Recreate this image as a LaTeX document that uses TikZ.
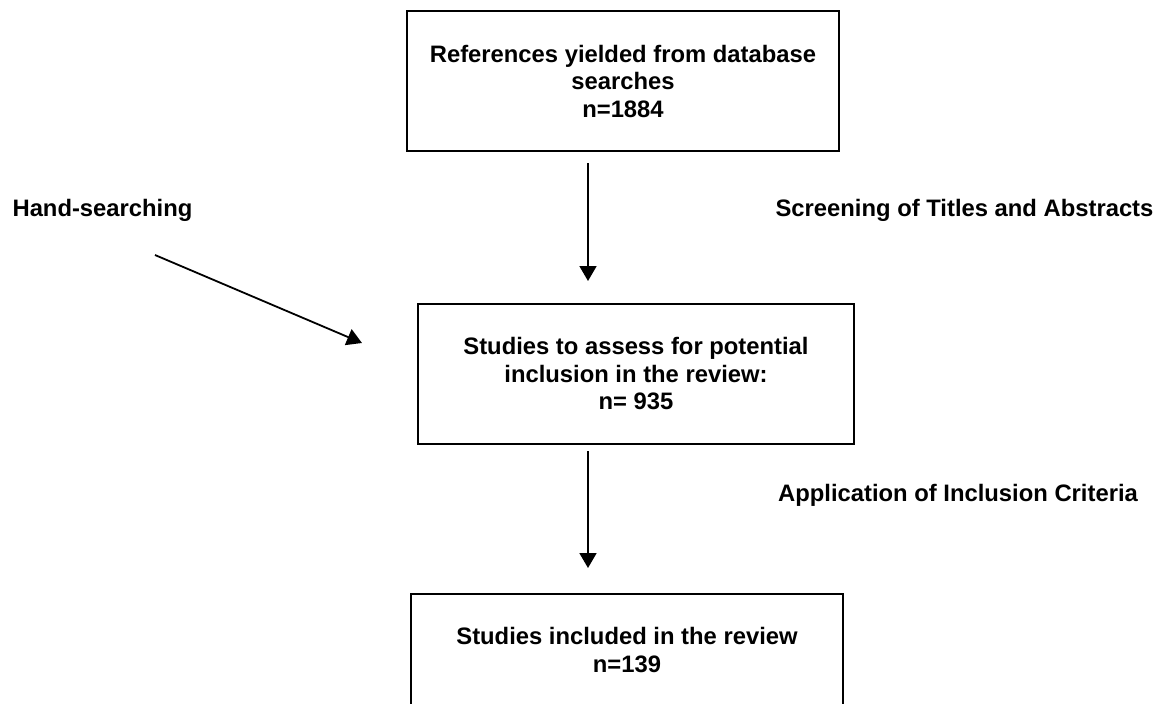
\documentclass[tikz,border=0pt]{standalone}
\usepackage{fontspec}
\setmainfont{Liberation Sans}
\usetikzlibrary{arrows.meta}
\tikzset{
  boxnode/.style={draw=black, line width=2pt, minimum height=140pt, inner sep=0pt, fill=none},
  boxtext/.style={font=\fontsize{23.8}{27.5}\selectfont\bfseries, align=center, inner sep=0pt},
  labeltext/.style={font=\fontsize{23.8}{27.5}\selectfont\bfseries, inner sep=0pt, anchor=base},
  flow/.style={line width=1.8pt, -{Triangle[width=17pt,length=15pt]}}
}
\begin{document}
\begin{tikzpicture}[x=1pt,y=-1pt]
\useasboundingbox[fill=white] (0,0) rectangle (1163,704);
\begin{scope}
\clip (0,0) rectangle (1163,704);
% boxes
\node[boxnode, minimum width=432pt] (box1) at (623,81) {};
\node[boxtext] (t1) at (623,81) {References yielded from database\\searches\\n=1884};
\node[boxnode, minimum width=436pt] (box2) at (636,374) {};
\node[boxtext] (t2) at (636,374) {Studies to assess for potential\\inclusion in the review:\\n= 935};
\node[boxnode, minimum width=432pt] (box3) at (627,664) {};
\node[boxtext] (t3) at (627,650) {Studies included in the review\\n=139};
\end{scope}
% labels
\node[labeltext] (hand) at (102.5,216.5) {Hand-searching};
\node[labeltext] (screen) at (964.5,216.5) {Screening of Titles and Abstracts};
\node[labeltext] (appl) at (958,501.5) {Application of Inclusion Criteria};
% connector end points
\coordinate (a1s) at ([xshift=-35pt,yshift=-11pt]box1.south);
\coordinate (a1e) at ([xshift=-48pt,yshift=22pt]box2.north);
\coordinate (a2s) at ([xshift=-48pt,yshift=-6pt]box2.south);
\coordinate (a2e) at ([xshift=-39pt,yshift=25pt]box3.north);
\coordinate (hs) at ([xshift=52.5pt,yshift=-38.5pt]hand.base);
\coordinate (he) at ([xshift=-55pt,yshift=31pt]box2.west);
% arrows
\draw[flow] (a1s) -- (a1e);
\draw[flow] (a2s) -- (a2e);
\draw[flow] (hs) -- (he);
\end{tikzpicture}
\end{document}
